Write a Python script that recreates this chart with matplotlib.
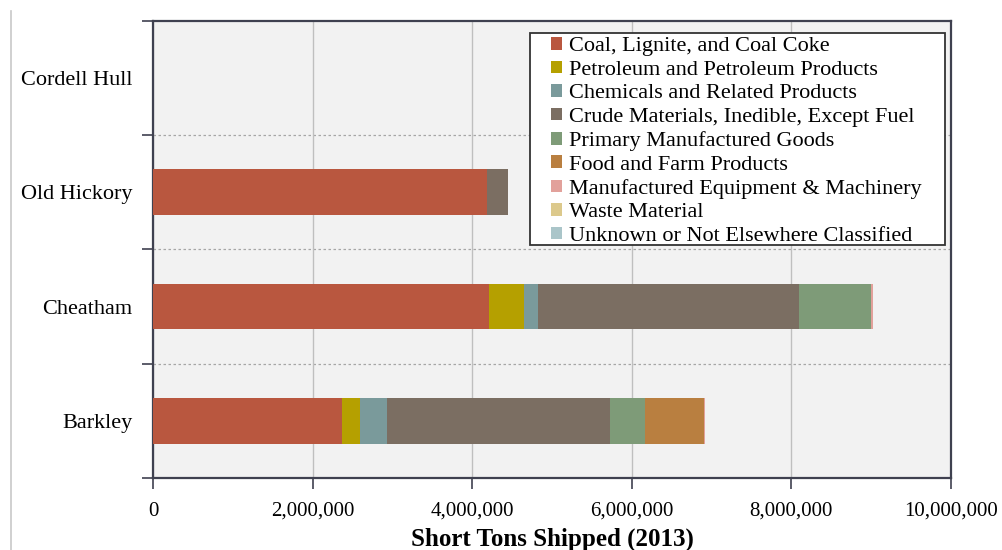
import matplotlib
matplotlib.use("Agg")
import matplotlib.pyplot as plt
from matplotlib.ticker import FuncFormatter, FixedLocator
from matplotlib.lines import Line2D
from matplotlib.patches import Rectangle
import numpy as np

plt.rcParams['font.family'] = ['Liberation Serif', 'DejaVu Serif']

dams = ["Barkley", "Cheatham", "Old Hickory", "Cordell Hull"]
commodities = [
    "Coal, Lignite, and Coal Coke",
    "Petroleum and Petroleum Products",
    "Chemicals and Related Products",
    "Crude Materials, Inedible, Except Fuel",
    "Primary Manufactured Goods",
    "Food and Farm Products",
    "Manufactured Equipment & Machinery",
    "Waste Material",
    "Unknown or Not Elsewhere Classified",
]
# values per commodity, ordered as dams list (Barkley, Cheatham, Old Hickory, Cordell Hull)
coal = [2370000, 4210000, 4190000, 0]
petroleum = [220000, 440000, 0, 0]
chemicals = [340000, 180000, 0, 0]
crude = [2800000, 3270000, 260000, 0]
primary = [430000, 900000, 0, 0]
food = [740000, 0, 0, 0]
equipment = [20000, 25000, 0, 0]
waste = [0, 0, 0, 0]
unknown = [0, 0, 0, 0]
series = [coal, petroleum, chemicals, crude, primary, food, equipment, waste, unknown]

colors = ["#B9573F", "#B5A000", "#7A9A9B", "#7B6E62", "#7E9B78",
          "#B97F40", "#E2A19B", "#DCC98C", "#AAC5C9"]

xticks = [0, 2000000, 4000000, 6000000, 8000000, 10000000]

W, H = 1002, 550
fig = plt.figure(figsize=(W / 100, H / 100), dpi=100)
ax = fig.add_axes([0.1527, 0.131, 0.7964, 0.831])
ax.set_facecolor("#F2F2F2")

y = np.arange(len(dams))
left = np.zeros(len(dams))
for vals, col, lab in zip(series, colors, commodities):
    v = np.array(vals, dtype=float)
    ax.barh(y, v, left=left, height=0.4, color=col, label=lab, zorder=3, linewidth=0)
    left += v

ax.set_xlim(0, 10000000)
ax.set_ylim(-0.5, len(dams) - 0.5)
ax.xaxis.set_major_locator(FixedLocator(xticks))
ax.xaxis.set_major_formatter(FuncFormatter(lambda v, p: f"{int(v):,}"))
ax.grid(axis="x", color="#BFBFBF", linewidth=1.0, zorder=0)

# y ticks: category boundaries as major ticks, labels at centers
ax.set_yticks(np.arange(-0.5, len(dams), 1.0))
ax.set_yticklabels([])
ax.set_yticks(y, minor=True)
ax.set_yticklabels(dams, minor=True)
ax.tick_params(axis="y", which="minor", length=0, pad=15, labelsize=16)
ax.tick_params(axis="y", which="major", length=8, width=1.2, direction="out", color="#3F4150")
ax.tick_params(axis="x", length=8, width=1.2, direction="out", color="#3F4150", labelsize=15, pad=9)
for b in np.arange(0.5, len(dams) - 1, 1.0):
    ax.axhline(b, color="#A6A6A6", linewidth=0.9, linestyle=(0, (2, 2)), zorder=1)

for s in ax.spines.values():
    s.set_color("#3F4150")
    s.set_linewidth(1.6)

ax.set_xlabel("Short Tons Shipped (2013)", fontsize=18, fontweight="bold", labelpad=5)

# legend frame
frame = Rectangle((530 / W, 1 - 245 / H), 415 / W, 212 / H, transform=fig.transFigure,
                  facecolor="white", edgecolor="#333333", linewidth=1.3, zorder=4)
ax.add_artist(frame)
frame.set_clip_on(False)

leg = ax.legend(loc="upper left", bbox_to_anchor=(551 / W, 1 - 37 / H),
                bbox_transform=fig.transFigure, fontsize=16,
                frameon=False, handlelength=0.5, handleheight=0.5, handletextpad=0.3,
                labelspacing=0.195, borderpad=0.0, borderaxespad=0.0)
leg.set_zorder(5)

fig.add_artist(Line2D([0.0105, 0.0105], [0.0, 0.98], color="#C8C8C8", linewidth=1.2))

fig.savefig("out.png", dpi=100)
